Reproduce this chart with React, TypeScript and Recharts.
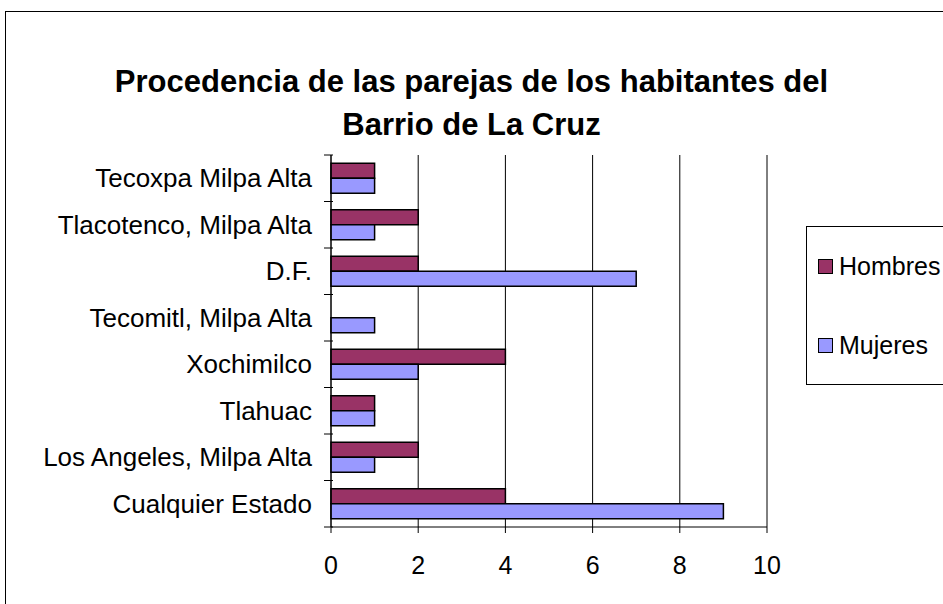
import { BarChart, Bar, XAxis, YAxis, CartesianGrid, Legend } from 'recharts'

const categories = [
  'Tecoxpa Milpa Alta',
  'Tlacotenco, Milpa Alta',
  'D.F.',
  'Tecomitl, Milpa Alta',
  'Xochimilco',
  'Tlahuac',
  'Los Angeles, Milpa Alta',
  'Cualquier Estado',
]
const hombres = [1, 2, 2, 0, 4, 1, 2, 4]
const mujeres = [1, 1, 7, 1, 2, 1, 1, 9]
const xTicks = [0, 2, 4, 6, 8, 10]

const data = categories.map((name, i) => ({ name, Hombres: hombres[i], Mujeres: mujeres[i] }))

const FONT = '"Liberation Sans", Arial, sans-serif'
const W = 943
const H = 604
const M = { top: 155, right: 176, bottom: 0, left: 0 }
const Y_WIDTH = 331
const X_HEIGHT = 77
// height of one category band, used to put tick marks between categories like Excel
const band = (H - M.top - M.bottom - X_HEIGHT) / categories.length

function CategoryTick(props: any) {
  const { x, y, payload, index } = props
  const ax = x + 10
  return (
    <g>
      <line x1={ax - 9} x2={ax} y1={y - band / 2} y2={y - band / 2} stroke="#000" />
      {index === categories.length - 1 && (
        <line x1={ax - 9} x2={ax} y1={y + band / 2} y2={y + band / 2} stroke="#000" />
      )}
      <text x={ax - 21} y={y} dy="0.35em" textAnchor="end" fontSize={26} fontFamily={FONT} fill="#000">
        {payload.value}
      </text>
    </g>
  )
}

function LegendBox() {
  const items = [
    { label: 'Hombres', color: '#993366', y: 266 },
    { label: 'Mujeres', color: '#9999FF', y: 345 },
  ]
  return (
    <div style={{ position: 'absolute', left: 806, top: 226, width: 200, height: 159, border: '1px solid #000', boxSizing: 'border-box' }}>
      {items.map((it) => (
        <div key={it.label} style={{ position: 'absolute', left: 11, top: it.y - 226 - 16, display: 'flex', alignItems: 'center', height: 30 }}>
          <span style={{ width: 13, height: 13, background: it.color, border: '1.5px solid #000', display: 'inline-block' }} />
          <span style={{ marginLeft: 6, fontSize: 25, fontFamily: FONT, color: '#000', whiteSpace: 'nowrap' }}>{it.label}</span>
        </div>
      ))}
    </div>
  )
}

export default function App() {
  return (
    <div style={{ position: 'fixed', left: 0, top: 0, width: W, height: H, overflow: 'hidden', background: '#fff' }}>
      <div style={{ position: 'absolute', left: 5, top: 11, width: 1000, height: 1000, border: '1px solid #000' }} />
      <div
        style={{
          position: 'absolute', left: 0, top: 60, width: 943, textAlign: 'center',
          fontFamily: FONT, fontWeight: 'bold', fontSize: 31, lineHeight: '43px', color: '#000',
        }}
      >
        Procedencia de las parejas de los habitantes del
        <br />
        Barrio de La Cruz
      </div>
      <div style={{ position: 'absolute', left: 0, top: 0 }}>
        <BarChart
          width={W}
          height={H}
          data={data}
          layout="vertical"
          margin={M}
          barCategoryGap="18%"
          barGap={0}
        >
          <CartesianGrid horizontal={false} vertical stroke="#000" />
          <XAxis
            type="number"
            domain={[0, 10]}
            ticks={xTicks}
            height={X_HEIGHT}
            tickSize={6}
            tickMargin={23}
            axisLine={{ stroke: '#000' }}
            tickLine={{ stroke: '#000' }}
            tick={{ fontSize: 25, fill: '#000', fontFamily: FONT }}
          />
          <YAxis
            type="category"
            dataKey="name"
            width={Y_WIDTH}
            tickLine={false}
            axisLine={{ stroke: '#000' }}
            tick={<CategoryTick />}
            interval={0}
          />
          <Legend content={() => null} />
          <Bar dataKey="Hombres" fill="#993366" stroke="#000" strokeWidth={1.5} isAnimationActive={false} />
          <Bar dataKey="Mujeres" fill="#9999FF" stroke="#000" strokeWidth={1.5} isAnimationActive={false} />
        </BarChart>
      </div>
      <LegendBox />
    </div>
  )
}
